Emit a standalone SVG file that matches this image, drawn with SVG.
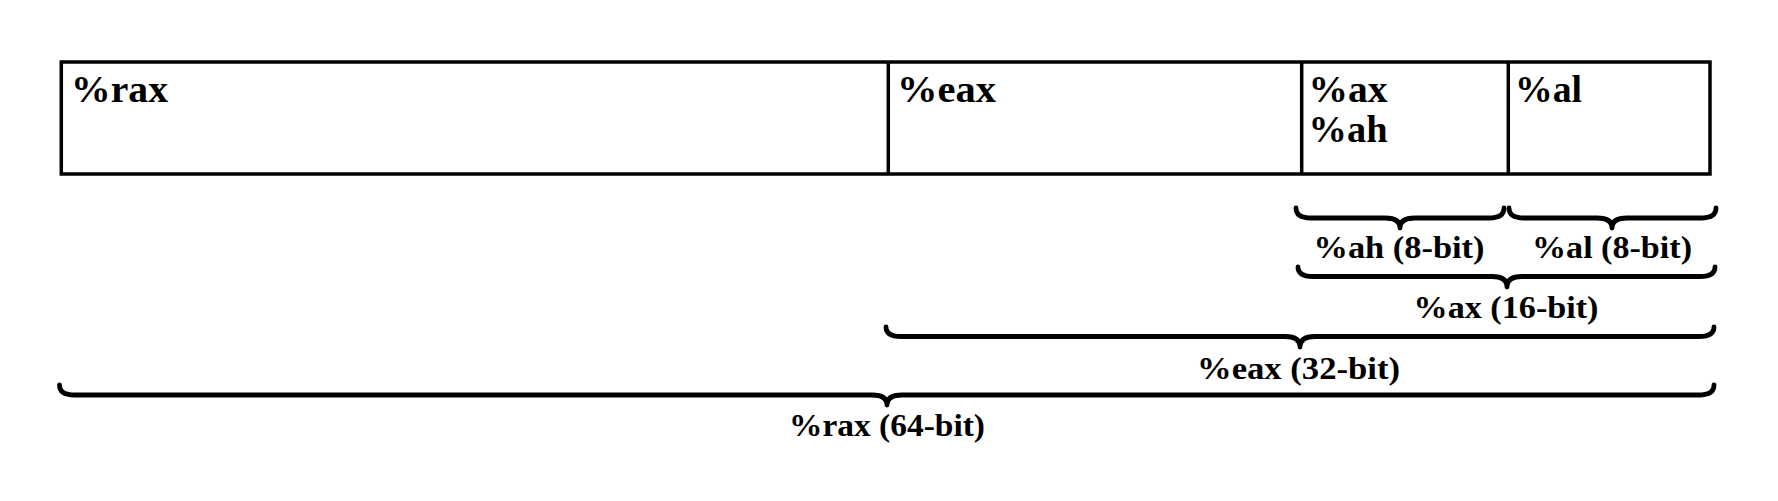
<svg xmlns="http://www.w3.org/2000/svg" width="1778" height="501" viewBox="0 0 1778 501">
<style>
.cell{fill:#fff;stroke:#000;stroke-width:3.5}
.div{stroke:#000;stroke-width:3.5}
.brace{fill:none;stroke:#000;stroke-width:4.8;stroke-linecap:round;stroke-linejoin:round}
.big{font-family:"Liberation Serif","Times New Roman",serif;font-weight:bold;font-size:37px;fill:#000}
.lbl{font-family:"Liberation Serif","Times New Roman",serif;font-weight:bold;font-size:30.5px;fill:#000}
</style>
<rect width="1778" height="501" fill="#fff"/>
<g id="register">
  <rect class="cell" x="61.3" y="62" width="1648.7" height="112"/>
</g>
<g id="cell-rax">
  <text class="big" x="71" y="101.7" textLength="97" lengthAdjust="spacingAndGlyphs">%rax</text>
</g>
<g id="cell-eax">
  <line class="div" x1="888.3" y1="62" x2="888.3" y2="174"/>
  <text class="big" x="897" y="101.7" textLength="99" lengthAdjust="spacingAndGlyphs">%eax</text>
</g>
<g id="cell-ax">
  <line class="div" x1="1301.7" y1="62" x2="1301.7" y2="174"/>
  <text class="big" x="1308.5" y="101.7" textLength="79" lengthAdjust="spacingAndGlyphs">%ax</text>
  <text class="big" x="1308.5" y="141.7" textLength="79" lengthAdjust="spacingAndGlyphs">%ah</text>
</g>
<g id="cell-al">
  <line class="div" x1="1508.3" y1="62" x2="1508.3" y2="174"/>
  <text class="big" x="1515" y="101.7" textLength="67" lengthAdjust="spacingAndGlyphs">%al</text>
</g>
<g id="connectors">
  <path class="brace" d="M1296 208 Q1296 218 1311 218 L1385 218 Q1400 218 1400 228 Q1400 218 1415 218 L1489 218 Q1504 218 1504 208"/>
  <path class="brace" d="M1509 208 Q1509 218 1524 218 L1597 218 Q1612 218 1612 228 Q1612 218 1627 218 L1701 218 Q1716 218 1716 208"/>
  <path class="brace" d="M1298 267 Q1298 276.5 1313 276.5 L1492 276.5 Q1507 276.5 1507 287 Q1507 276.5 1522 276.5 L1700 276.5 Q1715 276.5 1715 267"/>
  <path class="brace" d="M886 327 Q886 336.5 901 336.5 L1285 336.5 Q1300 336.5 1300 347 Q1300 336.5 1315 336.5 L1699 336.5 Q1714 336.5 1714 327"/>
  <path class="brace" d="M59.5 385 Q59.5 395 74.5 395 L872 395 Q887 395 887 405 Q887 395 902 395 L1699 395 Q1714 395 1714 385"/>
</g>
<g id="label-ah">
  <text class="lbl" x="1313.5" y="258.3" textLength="171" lengthAdjust="spacingAndGlyphs">%ah (8-bit)</text>
</g>
<g id="label-al">
  <text class="lbl" x="1532" y="258.3" textLength="160" lengthAdjust="spacingAndGlyphs">%al (8-bit)</text>
</g>
<g id="label-ax">
  <text class="lbl" x="1413.5" y="318.3" textLength="185" lengthAdjust="spacingAndGlyphs">%ax (16-bit)</text>
</g>
<g id="label-eax">
  <text class="lbl" x="1197" y="379" textLength="203" lengthAdjust="spacingAndGlyphs">%eax (32-bit)</text>
</g>
<g id="label-rax">
  <text class="lbl" x="789" y="435.5" textLength="196" lengthAdjust="spacingAndGlyphs">%rax (64-bit)</text>
</g>
</svg>
